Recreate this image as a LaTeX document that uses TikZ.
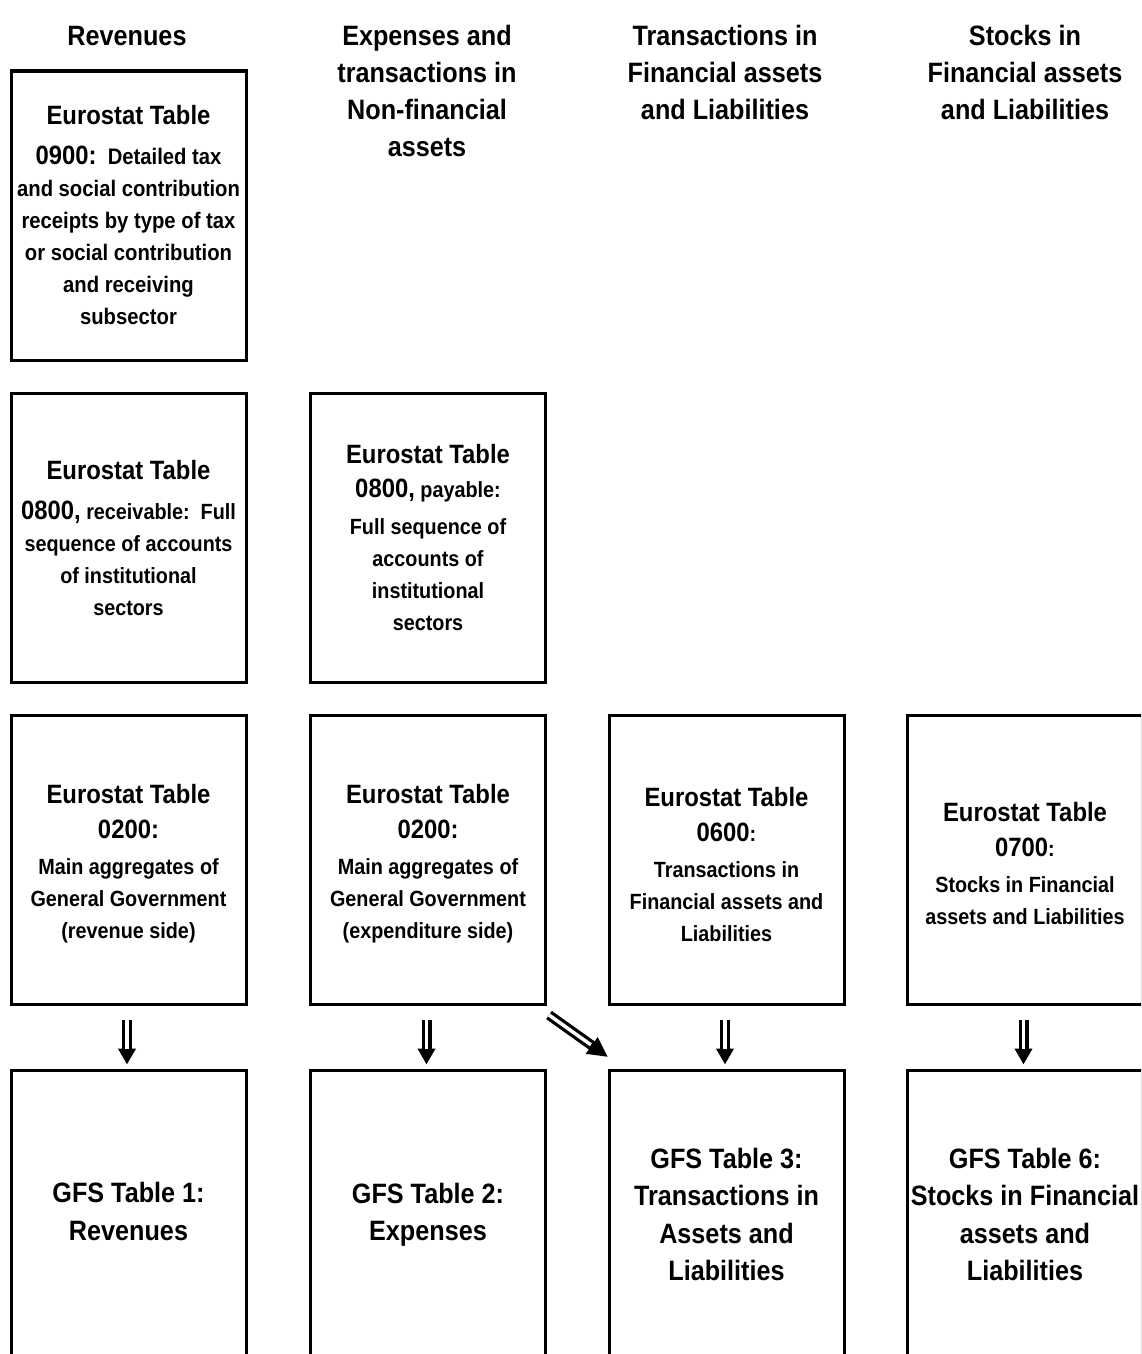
\documentclass[tikz,border=0pt]{standalone}
\usepackage{fontspec}
\setmainfont{Liberation Sans}[FakeStretch=0.9]
\usetikzlibrary{arrows.meta,calc}
\newcommand{\FLg}{\fontsize{26.5}{34}\selectfont}
\newcommand{\FSm}{\fontsize{22}{32}\selectfont}
\newcommand{\FHd}{\fontsize{28}{37}\selectfont}
\tikzset{
  box/.style={draw, line width=3pt, minimum width=235pt, minimum height=289pt,
    align=center, inner sep=0pt, font=\bfseries\FSm},
  btxt/.style={align=center, inner sep=0pt, font=\bfseries\FSm},
  gtxt/.style={btxt, font=\bfseries\fontsize{28}{37.5}\selectfont},
  hd/.style={align=center, inner sep=0pt, font=\bfseries\FHd},
  dshaft/.style={line width=10pt, -{Triangle[length=16pt,width=17pt]}},
  dinner/.style={white, line width=3.5pt},
}
\begin{document}
\begin{tikzpicture}[x=1pt,y=-1pt]
\useasboundingbox (0,0) rectangle (1141,1354);
\clip (0,0) rectangle (1141,1354);
\fill[white] (0,0) rectangle (1141,1354);
% headers
\node[hd] (h1) at (127,36) {Revenues};
\node[hd] (h2) at (427,91) {Expenses and\\ transactions in\\ Non-financial\\ assets};
\node[hd] (h3) at (725,72.5) {Transactions in\\ Financial assets\\ and Liabilities};
\node[hd] (h4) at (1025,72.5) {Stocks in\\ Financial assets\\ and Liabilities};
% row 1
\node[box, font=\bfseries\fontsize{22.5}{32}\selectfont] (A) at (128.5,215.5) {{\FLg Eurostat Table}\\[8pt]{\FLg 0900:}~~Detailed tax\\ and social contribution\\ receipts by type of tax\\ or social contribution\\ and receiving\\ subsector};
% row 2
\node[box] (B) at (128.5,537.5) {{\FLg Eurostat Table}\\[8pt]{\FLg 0800,} receivable:~~Full\\ sequence of accounts\\ of institutional\\ sectors};
\node[box] (C) at (428,537.5) {{\FLg Eurostat Table}\\[2pt]{\FLg 0800,} payable:\\[5pt] Full sequence of\\ accounts of\\ institutional\\ sectors};
% row 3
\node[box] (R1) at (128.5,860) {};
\node[box] (R2) at (428,860) {};
\node[box] (R3) at (726.5,860) {};
\node[box] (R4) at (1025,860) {};
\node[btxt] (R1t) at ($(R1.center)+(0,4)$) {{\FLg Eurostat Table}\\[3pt]{\FLg 0200:}\\[4pt] Main aggregates of\\ General Government\\ (revenue side)};
\node[btxt] (R2t) at ($(R2.center)+(0,4)$) {{\FLg Eurostat Table}\\[3pt]{\FLg 0200:}\\[4pt] Main aggregates of\\ General Government\\ (expenditure side)};
\node[btxt] (R3t) at ($(R3.center)+(0,4)$) {{\FLg Eurostat Table}\\[3pt]{\FLg 0600}:\\[4pt] Transactions in\\ Financial assets and\\ Liabilities};
\node[btxt] (R4t) at ($(R4.center)+(0,3)$) {{\FLg Eurostat Table}\\[3pt]{\FLg 0700}:\\[4pt] Stocks in Financial\\ assets and Liabilities};
% row 4
\node[box] (G1) at (128.5,1214.5) {};
\node[box] (G2) at (428,1214.5) {};
\node[box] (G3) at (726.5,1214.5) {};
\node[box] (G4) at (1025,1214.5) {};
\node[gtxt] (G1t) at ($(G1.center)+(0,-3)$) {GFS Table 1:\\ Revenues};
\node[gtxt] (G2t) at (G2.center) {GFS Table 2:\\ Expenses};
\node[gtxt] (G3t) at (G3.center) {GFS Table 3:\\ Transactions in\\ Assets and\\ Liabilities};
\node[gtxt] (G4t) at (G4.center) {GFS Table 6:\\ Stocks in Financial\\ assets and\\ Liabilities};
% arrows
\foreach \s/\t in {R1/G1,R2/G2,R3/G3,R4/G4}{
  \draw[dshaft, shorten <=13.5pt, shorten >=4pt] ($(\s.south)+(-1.5,0)$) -- ($(\t.north)+(-1.5,0)$);
  \draw[dinner, shorten <=13.5pt, shorten >=19.5pt] ($(\s.south)+(-1.5,0)$) -- ($(\t.north)+(-1.5,0)$);
}
\coordinate (d1) at (549,1015);
\coordinate (d2) at (608,1057);
\draw[line width=10pt, -{Triangle[length=20pt,width=19pt]}] (d1) -- (d2);
\draw[dinner, shorten >=21pt] (d1) -- (d2);
\end{tikzpicture}
\end{document}
